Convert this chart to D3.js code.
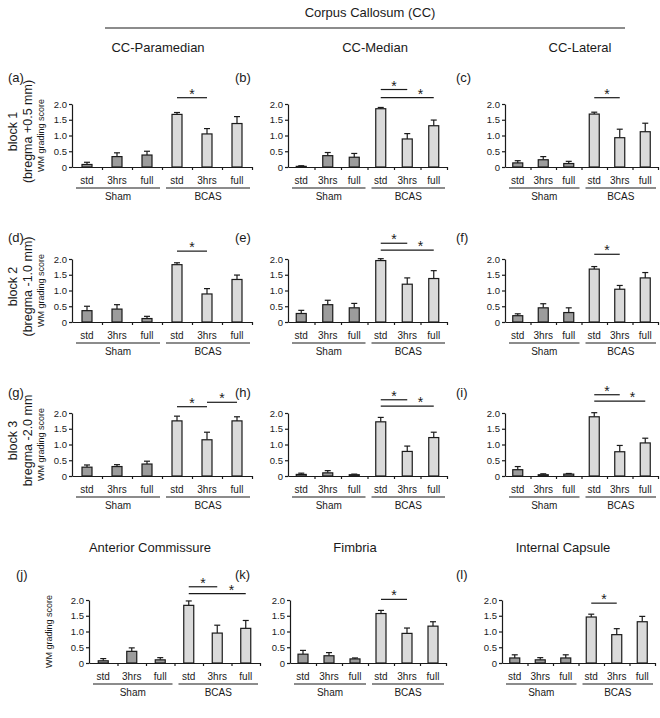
<!DOCTYPE html>
<html><head><meta charset="utf-8">
<script src="https://cdn.jsdelivr.net/npm/d3@7"></script>
<style>body{margin:0;background:#fff}svg{display:block}</style>
</head><body><svg id="c" width="660" height="718"></svg>
<script>
// ---------- DATA ----------
const groups = ["Sham", "BCAS"];
const conditions = ["std", "3hrs", "full"];
const yTicks = [0, 0.5, 1.0, 1.5, 2.0];
const yTickLabels = ["0", "0.5", "1.0", "1.5", "2.0"];
const panelLetters = ["(a)","(b)","(c)","(d)","(e)","(f)","(g)","(h)","(i)","(j)","(k)","(l)"];
const topTitle = "Corpus Callosum (CC)";
const ccTitles = ["CC-Paramedian", "CC-Median", "CC-Lateral"];
const bottomTitles = ["Anterior Commissure", "Fimbria", "Internal Capsule"];
const blockLabels = [["block 1", "(bregma +0.5 mm)"], ["block 2", "(bregma -1.0 mm)"], ["block 3", "bregma -2.0 mm"]];
const yAxisTitle = "WM grading score";

// order: Sham std, Sham 3hrs, Sham full, BCAS std, BCAS 3hrs, BCAS full
const mean_a = [0.08, 0.33, 0.38, 1.67, 1.05, 1.38];
const err_a  = [0.07, 0.12, 0.12, 0.06, 0.17, 0.22];
const mean_b = [0.02, 0.36, 0.31, 1.85, 0.89, 1.31];
const err_b  = [0.02, 0.10, 0.12, 0.04, 0.17, 0.18];
const mean_c = [0.13, 0.23, 0.11, 1.68, 0.93, 1.12];
const err_c  = [0.07, 0.10, 0.07, 0.06, 0.27, 0.27];
const mean_d = [0.36, 0.41, 0.11, 1.82, 0.89, 1.35];
const err_d  = [0.14, 0.14, 0.07, 0.06, 0.17, 0.14];
const mean_e = [0.27, 0.55, 0.45, 1.95, 1.20, 1.38];
const err_e  = [0.10, 0.14, 0.14, 0.06, 0.20, 0.25];
const mean_f = [0.20, 0.45, 0.30, 1.68, 1.04, 1.40];
const err_f  = [0.06, 0.13, 0.15, 0.08, 0.12, 0.17];
const mean_g = [0.28, 0.30, 0.38, 1.75, 1.15, 1.75];
const err_g  = [0.07, 0.06, 0.09, 0.15, 0.24, 0.13];
const mean_h = [0.05, 0.10, 0.04, 1.72, 0.78, 1.22];
const err_h  = [0.04, 0.07, 0.02, 0.14, 0.17, 0.17];
const mean_i = [0.20, 0.04, 0.06, 1.88, 0.77, 1.05];
const err_i  = [0.10, 0.03, 0.02, 0.13, 0.20, 0.15];
const mean_j = [0.07, 0.37, 0.10, 1.83, 0.95, 1.10];
const err_j  = [0.07, 0.11, 0.07, 0.14, 0.25, 0.25];
const mean_k = [0.28, 0.23, 0.13, 1.57, 0.94, 1.17];
const err_k  = [0.12, 0.10, 0.03, 0.10, 0.17, 0.14];
const mean_l = [0.16, 0.10, 0.16, 1.46, 0.90, 1.31];
const err_l  = [0.10, 0.07, 0.10, 0.09, 0.19, 0.17];

// significance brackets: [from bar, to bar, level in score units]
const sig_a = [[3, 4, 2.20]];
const sig_b = [[3, 4, 2.46], [3, 5, 2.20]];
const sig_c = [[3, 4, 2.20]];
const sig_d = [[3, 4, 2.25]];
const sig_e = [[3, 4, 2.50], [3, 5, 2.28]];
const sig_f = [[3, 4, 2.15]];
const sig_g = [[3, 4, 2.20], [4, 5, 2.34]];
const sig_h = [[3, 4, 2.42], [3, 5, 2.22]];
const sig_i = [[3, 4, 2.58], [3, 5, 2.38]];
const sig_j = [[3, 4, 2.42], [3, 5, 2.20]];
const sig_k = [[3, 4, 2.02]];
const sig_l = [[3, 4, 1.90]];

const panelMeans = [mean_a, mean_b, mean_c, mean_d, mean_e, mean_f, mean_g, mean_h, mean_i, mean_j, mean_k, mean_l];
const panelErrs  = [err_a, err_b, err_c, err_d, err_e, err_f, err_g, err_h, err_i, err_j, err_k, err_l];
const panelSigs  = [sig_a, sig_b, sig_c, sig_d, sig_e, sig_f, sig_g, sig_h, sig_i, sig_j, sig_k, sig_l];

// ---------- LAYOUT ----------
const FONT = "'Liberation Sans', Arial, sans-serif";
// per row: [x0, band width] for each column
const colGeom = [
  [[72, 30], [288, 26.5], [505, 25.5]],
  [[72, 30], [288, 26.5], [505, 25.5]],
  [[72, 30], [288, 26.5], [505, 25.5]],
  [[89, 28.5], [290, 26], [502, 25.5]]
];
const rowZero = [167, 322, 476, 663];
const plotH = 63;
const barW = 10, capW = 6;
const shamFill = "#9c9c9c", bcasFill = "#dadada";
const ink = "#1a1a1a";

const svg = d3.select("#c");
svg.append("rect").attr("width", 660).attr("height", 718).attr("fill", "#fff");

function txt(x, y, s, size, anchor) {
  return svg.append("text").attr("x", x).attr("y", y).text(s)
    .attr("font-family", FONT).attr("font-size", size)
    .attr("text-anchor", anchor || "middle").attr("fill", ink);
}

// header
txt(370, 16.5, topTitle, 13);
svg.append("line").attr("x1", 105).attr("x2", 625).attr("y1", 28).attr("y2", 28)
  .attr("stroke", ink).attr("stroke-width", 1.2);
const ccTitleX = [158, 375, 580];
ccTitles.forEach((t, i) => txt(ccTitleX[i], 51.5, t, 13));
const bottomTitleX = [150, 355, 563];
bottomTitles.forEach((t, i) => txt(bottomTitleX[i], 551.5, t, 13));

const letterX = [[8, 235, 456], [8, 235, 456], [8, 235, 456], [16, 235, 456]];
const letterY = [81.5, 241.5, 396.5, 578.5];

const labels6 = [];
groups.forEach(g => conditions.forEach(c => labels6.push(c)));

for (let p = 0; p < 12; p++) {
  const r = Math.floor(p / 3), c = p % 3;
  const [x0, bw] = colGeom[r][c];
  const plotW = bw * 6;
  const y = d3.scaleLinear().domain([0, 2]).range([rowZero[r], rowZero[r] - plotH]);
  const xb = d3.scaleBand().domain(d3.range(6)).range([x0, x0 + plotW]);
  const xl = d3.scaleLinear().domain([0, 6]).range([x0, x0 + plotW]);
  const g = svg.append("g");

  txt(letterX[r][c], letterY[r], panelLetters[p], 13, "start");

  const means = panelMeans[p], errs = panelErrs[p];
  const data = means.map((m, i) => ({ i, m, e: errs[i] }));
  g.selectAll("line.eb").data(data).enter().append("line")
    .attr("x1", d => xb(d.i) + xb.bandwidth() / 2).attr("x2", d => xb(d.i) + xb.bandwidth() / 2)
    .attr("y1", d => y(d.m)).attr("y2", d => y(d.m + d.e))
    .attr("stroke", ink).attr("stroke-width", 1.2);
  g.selectAll("line.cap").data(data).enter().append("line")
    .attr("x1", d => xb(d.i) + xb.bandwidth() / 2 - capW / 2).attr("x2", d => xb(d.i) + xb.bandwidth() / 2 + capW / 2)
    .attr("y1", d => y(d.m + d.e)).attr("y2", d => y(d.m + d.e))
    .attr("stroke", ink).attr("stroke-width", 1.2);
  g.selectAll("rect.bar").data(data).enter().append("rect")
    .attr("x", d => xb(d.i) + (xb.bandwidth() - barW) / 2)
    .attr("width", barW)
    .attr("y", d => y(d.m)).attr("height", d => y(0) - y(d.m))
    .attr("fill", d => d.i < 3 ? shamFill : bcasFill)
    .attr("stroke", ink).attr("stroke-width", 1.2);

  const ya = g.append("g").attr("transform", `translate(${x0},0)`)
    .call(d3.axisLeft(y).tickValues(yTicks).tickFormat((d, i) => yTickLabels[i]).tickSize(3).tickSizeOuter(0));
  const xa = g.append("g").attr("transform", `translate(0,${rowZero[r]})`)
    .call(d3.axisBottom(xl).tickValues([1, 2, 3, 4, 5, 6]).tickFormat("").tickSize(3).tickSizeOuter(0));
  [ya, xa].forEach(a => {
    a.selectAll("path.domain").attr("stroke", ink).attr("stroke-width", 1.2);
    a.selectAll("line").attr("stroke", ink).attr("stroke-width", 1.2);
    a.selectAll("text").attr("font-family", FONT).attr("font-size", 9.5).attr("fill", ink);
  });
  ya.selectAll("text").attr("x", -5);

  labels6.forEach((s, i) => txt(xb(i) + xb.bandwidth() / 2, rowZero[r] + 16.5, s, 10));
  groups.forEach((gr, k) => {
    const a = xl(k * 3) + 4, b = xl(k * 3 + 3) - 2;
    svg.append("line").attr("x1", a).attr("x2", b)
      .attr("y1", rowZero[r] + 21).attr("y2", rowZero[r] + 21)
      .attr("stroke", ink).attr("stroke-width", 1.2);
    txt((a + b) / 2, rowZero[r] + 32.5, gr, 10);
  });

  panelSigs[p].forEach(([f, t, lev]) => {
    const xa1 = xb(f) + xb.bandwidth() / 2, xa2 = xb(t) + xb.bandwidth() / 2;
    const ly = y(lev);
    svg.append("line").attr("x1", xa1).attr("x2", xa2).attr("y1", ly).attr("y2", ly)
      .attr("stroke", ink).attr("stroke-width", 1.2);
    const sx = xb(t - 1) + xb.bandwidth();
    txt(sx, ly + 1, "*", 14);
  });

  if (c === 0) {
    const cy = rowZero[r] - plotH / 2;
    const wx = r < 3 ? 44 : 52;
    svg.append("text").attr("transform", `translate(${wx},${cy}) rotate(-90)`)
      .attr("text-anchor", "middle").attr("font-family", FONT).attr("font-size", 9)
      .attr("fill", ink).text(yAxisTitle);
    if (r < 3) {
      [12, 27].forEach((xx, k) => {
        svg.append("text").attr("transform", `translate(${xx + 4.5},${cy - 4}) rotate(-90)`)
          .attr("text-anchor", "middle").attr("font-family", FONT).attr("font-size", 12.5)
          .attr("fill", ink).text(blockLabels[r][k]);
      });
    }
  }
}
</script></body></html>
